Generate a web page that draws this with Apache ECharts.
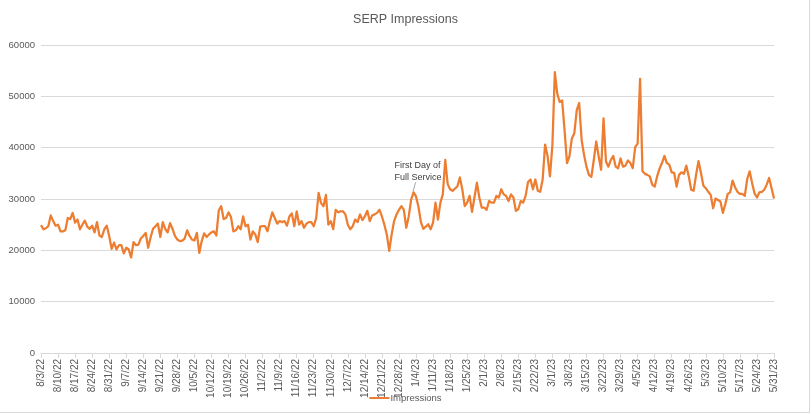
<!DOCTYPE html>
<html>
<head>
<meta charset="utf-8">
<script src="https://cdn.jsdelivr.net/npm/echarts@6/dist/echarts.min.js"></script>
<style>html,body{margin:0;padding:0;background:#fff;}#c{width:811px;height:414px;}</style>
</head>
<body>
<div id="c"></div>
<script>
// Daily SERP impressions, 8/3/22 .. 5/31/23
const aug22 = [24900,24100,24300,24700,26800,25700,24800,25000,23700,23700,23900,26300,26100,27300,25400,26000,24100,25000,25800,24600,24200,24800,23500,25500,22900,22600,24100,24800,22800];
const sep22 = [20300,21500,20200,21000,21000,19400,20500,20200,18600,21600,21000,21100,22300,22800,23400,20500,22500,24200,24700,25200,22600,25500,24200,23500,25300,24200,22800,22100,21800,21900];
const oct22 = [22300,23900,22800,22100,21900,23400,19500,21800,23300,22600,23100,23500,23700,22900,27800,28600,26100,26300,27400,26500,23700,23900,24700,24100,26600,24700,25000,22100,23700,23100,21600];
const nov22 = [24600,24700,24700,23700,25700,27400,26300,25200,25700,25500,25700,24800,26600,27200,24700,27600,25000,25700,24400,25200,25500,25500,24700,26300,31200,29200,28600,30800,25000,25700];
const dec22 = [24100,27900,27400,27600,27600,27000,25000,24100,24700,26000,25500,27000,25900,26600,27700,25700,26800,27000,27300,27900,26600,25000,23100,19900,23100,25700,27000,27900,28600,27900,24400];
const jan23 = [26600,29900,31300,30500,28500,25500,24200,24600,25100,24100,25400,29300,26000,29300,30900,37600,32900,31900,31600,32000,32500,34200,31900,28600,29300,30600,27500,30300,33200,30300,28300];
const feb23 = [28300,27900,29600,29300,29300,30600,30300,31900,30900,30600,29600,30900,30300,27700,28000,29600,29300,30600,33300,33800,31900,33800,31600,31400,33800,40600,38400,34400];
const mar23 = [40500,54700,50500,48900,49200,43400,37000,38300,41800,42800,47300,48700,41500,38600,36300,34700,34300,37600,41200,38300,35700,45700,37300,36300,37600,38400,36300,36000,37900,36300,36500];
const apr23 = [37500,37000,36000,40100,40800,53400,35400,34900,34700,34400,32800,32400,34400,35900,37000,38400,37000,36700,35200,35100,32400,34700,35200,34900,36500,34400,31800,31600,34700,37400];
const may23 = [35100,32600,32100,31400,30800,28200,30100,29800,29500,27300,29000,31000,31300,33600,32300,31400,31000,31000,30600,33900,35400,33100,31100,30300,31300,31400,31800,32800,34100,32100,30100];

const impressions = [].concat(aug22, sep22, oct22, nov22, dec22, jan23, feb23, mar23, apr23, may23);

// Category labels: every day from 8/3/22
const categories = [];
(function(){
  const d = new Date(2022, 7, 3);
  for (let i = 0; i < impressions.length; i++) {
    categories.push((d.getMonth()+1) + '/' + d.getDate() + '/' + String(d.getFullYear()).slice(2));
    d.setDate(d.getDate() + 1);
  }
})();

const yTicks = [0, 10000, 20000, 30000, 40000, 50000, 60000];
const annotationDate = '1/3/23';
const annotationLines = ['First Day of', 'Full Service'];

const FONT = "'Liberation Sans',sans-serif";
const chart = echarts.init(document.getElementById('c'));
chart.setOption({
  animation: false,
  backgroundColor: '#ffffff',
  title: {
    text: 'SERP Impressions',
    left: 'center',
    top: 8,
    textStyle: { fontFamily: FONT, fontSize: 12.5, fontWeight: 'normal', color: '#595959' }
  },
  legend: {
    bottom: 6,
    left: 'center',
    icon: 'rect',
    itemWidth: 20,
    itemHeight: 2,
    itemGap: 10,
    textStyle: { fontFamily: FONT, fontSize: 9.5, color: '#595959', padding: [0,0,0,-4] },
    data: ['Impressions']
  },
  grid: { left: 41, right: 37, top: 45, bottom: 61, containLabel: false },
  xAxis: {
    type: 'category',
    data: categories,
    boundaryGap: false,
    axisLine: { lineStyle: { color: '#d9d9d9', width: 1 } },
    axisTick: { interval: 6, length: 5, lineStyle: { color: '#d9d9d9' } },
    axisLabel: { interval: 6, rotate: 90, margin: 6, fontFamily: FONT, fontSize: 10, color: '#595959' },
    splitLine: { show: false }
  },
  yAxis: {
    type: 'value',
    min: yTicks[0],
    max: yTicks[yTicks.length-1],
    interval: yTicks[1] - yTicks[0],
    axisLine: { show: false },
    axisTick: { show: false },
    axisLabel: { margin: 6, fontFamily: FONT, fontSize: 9.5, color: '#595959', formatter: function(v){ return String(v); } },
    splitLine: { lineStyle: { color: '#d9d9d9', width: 1 } }
  },
  series: [{
    name: 'Impressions',
    type: 'line',
    data: impressions,
    symbol: 'none',
    smooth: false,
    lineStyle: { color: '#ED7D31', width: 2.25, join: 'round' },
    itemStyle: { color: '#ED7D31' }
  }]
});

const idx = categories.indexOf(annotationDate);
const p = chart.convertToPixel({ xAxisIndex: 0, yAxisIndex: 0 }, [idx, impressions[idx]]);
chart.setOption({
  graphic: [
    { type: 'text', left: p[0] - 19, top: p[1] - 33, style: { text: annotationLines.join('\n'), lineHeight: 12, fontFamily: FONT, fontSize: 9, fill: '#404040' } },
    { type: 'line', shape: { x1: p[0] + 2, y1: p[1] - 10, x2: p[0] - 0.5, y2: p[1] - 1 }, style: { stroke: '#a6a6a6', lineWidth: 1 } },
    { type: 'line', shape: { x1: 809.5, y1: 0, x2: 809.5, y2: 412.5 }, style: { stroke: '#d9d9d9', lineWidth: 1 } },
    { type: 'line', shape: { x1: 0, y1: 412.5, x2: 809.5, y2: 412.5 }, style: { stroke: '#d9d9d9', lineWidth: 1 } }
  ]
});
</script>
</body>
</html>
